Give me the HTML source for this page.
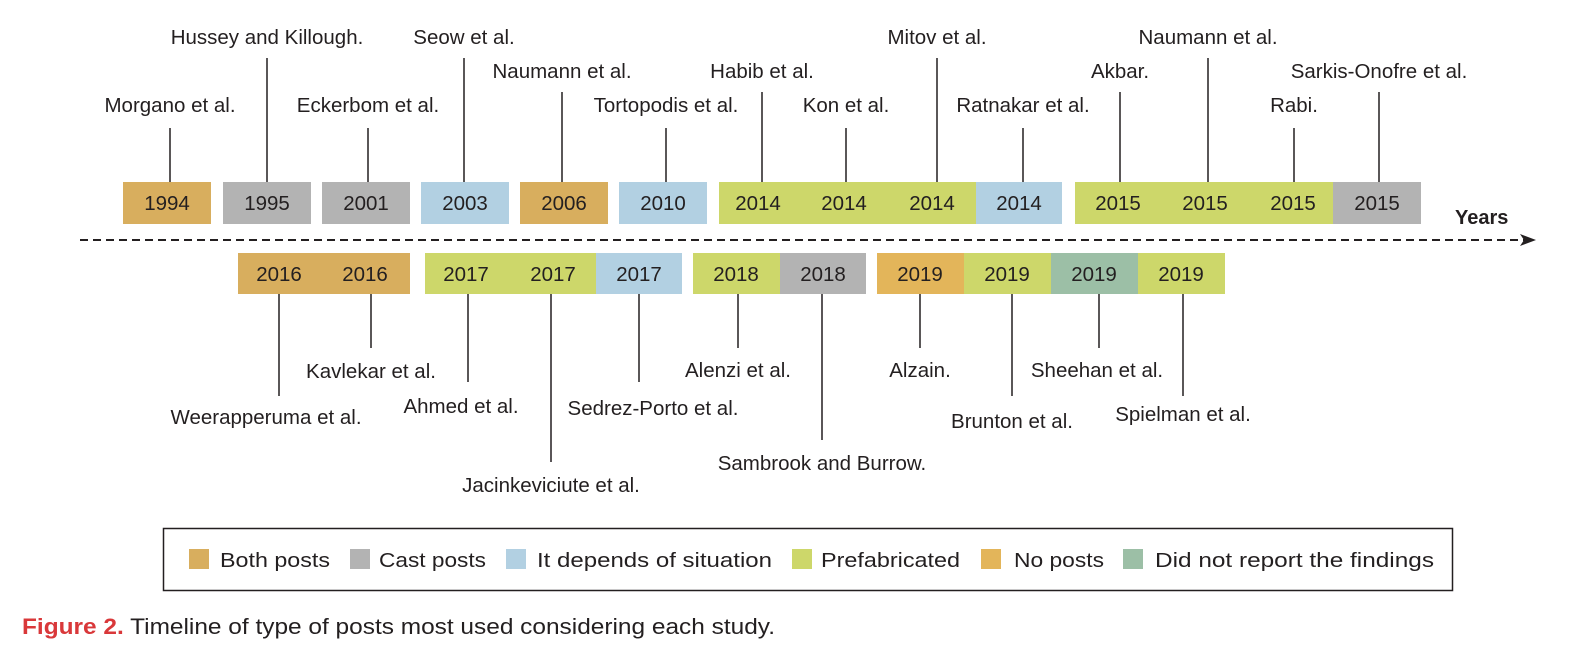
<!DOCTYPE html>
<html><head><meta charset="utf-8"><style>
html,body{margin:0;padding:0;background:#fff;}
svg{display:block;}
text{font-family:"Liberation Sans",sans-serif;font-size:20.5px;fill:#231f20;}
</style></head><body>
<svg width="1576" height="656" viewBox="0 0 1576 656" xmlns="http://www.w3.org/2000/svg">
<g stroke="#231f20" stroke-width="1.5">
<line x1="170" y1="128" x2="170" y2="182"/>
<line x1="267" y1="58" x2="267" y2="182"/>
<line x1="368" y1="128" x2="368" y2="182"/>
<line x1="464" y1="58" x2="464" y2="182"/>
<line x1="562" y1="92" x2="562" y2="182"/>
<line x1="666" y1="128" x2="666" y2="182"/>
<line x1="762" y1="92" x2="762" y2="182"/>
<line x1="846" y1="128" x2="846" y2="182"/>
<line x1="937" y1="58" x2="937" y2="182"/>
<line x1="1023" y1="128" x2="1023" y2="182"/>
<line x1="1120" y1="92" x2="1120" y2="182"/>
<line x1="1208" y1="58" x2="1208" y2="182"/>
<line x1="1294" y1="128" x2="1294" y2="182"/>
<line x1="1379" y1="92" x2="1379" y2="182"/>
<line x1="279" y1="294" x2="279" y2="396"/>
<line x1="371" y1="294" x2="371" y2="348"/>
<line x1="468" y1="294" x2="468" y2="382"/>
<line x1="551" y1="294" x2="551" y2="462"/>
<line x1="639" y1="294" x2="639" y2="382"/>
<line x1="738" y1="294" x2="738" y2="348"/>
<line x1="822" y1="294" x2="822" y2="440"/>
<line x1="920" y1="294" x2="920" y2="348"/>
<line x1="1012" y1="294" x2="1012" y2="396"/>
<line x1="1099" y1="294" x2="1099" y2="348"/>
<line x1="1183" y1="294" x2="1183" y2="396"/>
</g>
<line x1="80" y1="240" x2="1525" y2="240" stroke="#231f20" stroke-width="2" stroke-dasharray="8,5"/>
<polygon points="1536,240 1520,234 1524,240 1520,246" fill="#231f20"/>
<text x="1455" y="224" style="font-weight:bold;font-size:20px">Years</text>
<rect x="123" y="182" width="88" height="42" fill="#d8ae5e"/>
<rect x="223" y="182" width="88" height="42" fill="#b3b3b3"/>
<rect x="322" y="182" width="88" height="42" fill="#b3b3b3"/>
<rect x="421" y="182" width="88" height="42" fill="#b2d0e2"/>
<rect x="520" y="182" width="88" height="42" fill="#d8ae5e"/>
<rect x="619" y="182" width="88" height="42" fill="#b2d0e2"/>
<rect x="719" y="182" width="257" height="42" fill="#cdd76a"/>
<rect x="976" y="182" width="86" height="42" fill="#b2d0e2"/>
<rect x="1075" y="182" width="258" height="42" fill="#cdd76a"/>
<rect x="1333" y="182" width="88" height="42" fill="#b3b3b3"/>
<rect x="238" y="253" width="172" height="41" fill="#d8ae5e"/>
<rect x="425" y="253" width="171" height="41" fill="#cdd76a"/>
<rect x="596" y="253" width="86" height="41" fill="#b2d0e2"/>
<rect x="693" y="253" width="87" height="41" fill="#cdd76a"/>
<rect x="780" y="253" width="86" height="41" fill="#b3b3b3"/>
<rect x="877" y="253" width="87" height="41" fill="#e3b55a"/>
<rect x="964" y="253" width="87" height="41" fill="#cdd76a"/>
<rect x="1051" y="253" width="87" height="41" fill="#9cbfa6"/>
<rect x="1138" y="253" width="87" height="41" fill="#cdd76a"/>
<g text-anchor="middle">
<text x="167" y="210">1994</text><text x="267" y="210">1995</text><text x="366" y="210">2001</text>
<text x="465" y="210">2003</text><text x="564" y="210">2006</text><text x="663" y="210">2010</text>
<text x="758" y="210">2014</text><text x="844" y="210">2014</text><text x="932" y="210">2014</text>
<text x="1019" y="210">2014</text><text x="1118" y="210">2015</text><text x="1205" y="210">2015</text>
<text x="1293" y="210">2015</text><text x="1377" y="210">2015</text>
<text x="279" y="281">2016</text><text x="365" y="281">2016</text><text x="466" y="281">2017</text>
<text x="553" y="281">2017</text><text x="639" y="281">2017</text><text x="736" y="281">2018</text>
<text x="823" y="281">2018</text><text x="920" y="281">2019</text><text x="1007" y="281">2019</text>
<text x="1094" y="281">2019</text><text x="1181" y="281">2019</text>
<text x="170" y="112">Morgano et al.</text>
<text x="267" y="44">Hussey and Killough.</text>
<text x="368" y="112">Eckerbom et al.</text>
<text x="464" y="44">Seow et al.</text>
<text x="562" y="78">Naumann et al.</text>
<text x="666" y="112">Tortopodis et al.</text>
<text x="762" y="78">Habib et al.</text>
<text x="846" y="112">Kon et al.</text>
<text x="937" y="44">Mitov et al.</text>
<text x="1023" y="112">Ratnakar et al.</text>
<text x="1120" y="78">Akbar.</text>
<text x="1208" y="44">Naumann et al.</text>
<text x="1294" y="112">Rabi.</text>
<text x="1379" y="78">Sarkis-Onofre et al.</text>
<text x="266" y="424">Weerapperuma et al.</text>
<text x="371" y="378">Kavlekar et al.</text>
<text x="461" y="413">Ahmed et al.</text>
<text x="551" y="492">Jacinkeviciute et al.</text>
<text x="653" y="415">Sedrez-Porto et al.</text>
<text x="738" y="377">Alenzi et al.</text>
<text x="822" y="470">Sambrook and Burrow.</text>
<text x="920" y="377">Alzain.</text>
<text x="1012" y="428">Brunton et al.</text>
<text x="1097" y="377">Sheehan et al.</text>
<text x="1183" y="421">Spielman et al.</text>
</g>
<rect x="163.5" y="528.5" width="1289" height="62" fill="none" stroke="#231f20" stroke-width="1.5"/>
<g style="font-size:21.5px">
<rect x="189" y="549" width="20" height="20" fill="#d8ae5e"/>
<text x="220" y="567" textLength="110" lengthAdjust="spacingAndGlyphs">Both posts</text>
<rect x="350" y="549" width="20" height="20" fill="#b3b3b3"/>
<text x="379" y="567" textLength="107" lengthAdjust="spacingAndGlyphs">Cast posts</text>
<rect x="506" y="549" width="20" height="20" fill="#b2d0e2"/>
<text x="537" y="567" textLength="235" lengthAdjust="spacingAndGlyphs">It depends of situation</text>
<rect x="792" y="549" width="20" height="20" fill="#cdd76a"/>
<text x="821" y="567" textLength="139" lengthAdjust="spacingAndGlyphs">Prefabricated</text>
<rect x="981" y="549" width="20" height="20" fill="#e3b55a"/>
<text x="1014" y="567" textLength="90" lengthAdjust="spacingAndGlyphs">No posts</text>
<rect x="1123" y="549" width="20" height="20" fill="#9cbfa6"/>
<text x="1155" y="567" textLength="279" lengthAdjust="spacingAndGlyphs">Did not report the findings</text>
</g>
<text x="22" y="634" style="font-size:22px" textLength="753" lengthAdjust="spacingAndGlyphs"><tspan style="fill:#d9383a;font-weight:bold">Figure 2.</tspan> Timeline of type of posts most used considering each study.</text>
</svg>
</body></html>
